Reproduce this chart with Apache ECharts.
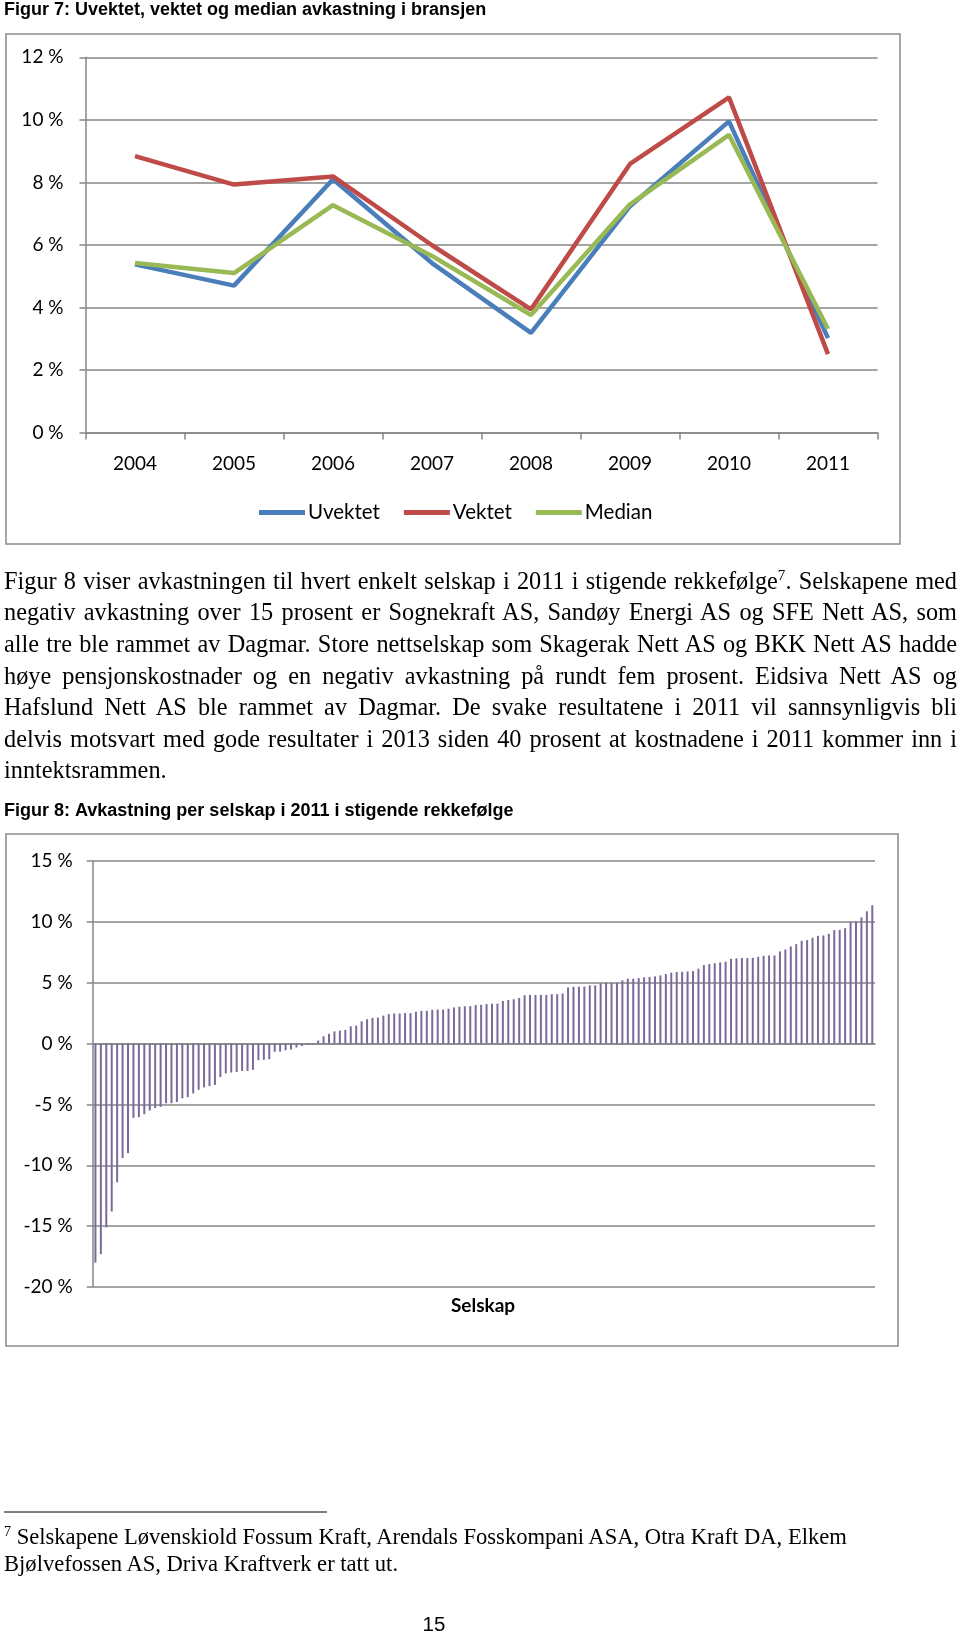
<!DOCTYPE html>
<html>
<head>
<meta charset="utf-8">
<script src="https://cdn.jsdelivr.net/npm/echarts@6/dist/echarts.min.js"></script>
<style>
  html, body { margin: 0; padding: 0; background: #fff; }
  #chart { position: absolute; left: 0; top: 0; width: 960px; height: 1635px; }
  .txt { position: absolute; left: 4px; width: 953px; font-family: 'Liberation Serif', 'Times New Roman', serif;
         font-size: 24.3px; line-height: 31.6px; height: 31.6px; color: #000; white-space: nowrap;
         text-align: justify; text-align-last: justify; }
  .last { text-align: left; text-align-last: left; }
  .fn { position: absolute; left: 4px; font-family: 'Liberation Serif', 'Times New Roman', serif;
        font-size: 22.6px; line-height: 27px; color: #000; white-space: nowrap; }
  sup { font-size: 62%; line-height: 0; vertical-align: 0.6em; }
</style>
</head>
<body>
<div id="chart"></div>
<div class="txt" style="top:564.7px">Figur 8 viser avkastningen til hvert enkelt selskap i 2011 i stigende rekkefølge<sup>7</sup>. Selskapene med</div>
<div class="txt" style="top:596.3px">negativ avkastning over 15 prosent er Sognekraft AS, Sandøy Energi AS og SFE Nett AS, som</div>
<div class="txt" style="top:627.9px">alle tre ble rammet av Dagmar. Store nettselskap som Skagerak Nett AS og BKK Nett AS hadde</div>
<div class="txt" style="top:659.5px">høye pensjonskostnader og en negativ avkastning på rundt fem prosent. Eidsiva Nett AS og</div>
<div class="txt" style="top:691.1px">Hafslund Nett AS ble rammet av Dagmar. De svake resultatene i 2011 vil sannsynligvis bli</div>
<div class="txt" style="top:722.7px">delvis motsvart med gode resultater i 2013 siden 40 prosent at kostnadene i 2011 kommer inn i</div>
<div class="txt last" style="top:754.3px">inntektsrammen.</div>
<div class="fn" style="top:1522.5px"><sup>7</sup> Selskapene Løvenskiold Fossum Kraft, Arendals Fosskompani ASA, Otra Kraft DA, Elkem</div>
<div class="fn" style="top:1550px">Bjølvefossen AS, Driva Kraftverk er tatt ut.</div>
<script>
// ---- Figure 7 data ----
const years = ['2004', '2005', '2006', '2007', '2008', '2009', '2010', '2011'];
const uvektet = [5.38, 4.70, 8.10, 5.42, 3.19, 7.24, 9.95, 3.02];
const vektet  = [8.84, 7.93, 8.19, 5.99, 3.94, 8.59, 10.72, 2.51];
const median  = [5.42, 5.10, 7.27, 5.65, 3.76, 7.30, 9.52, 3.31];
const seriesNames = ['Uvektet', 'Vektet', 'Median'];

// ---- Figure 8 data (avkastning per selskap 2011, stigende) ----
const avkastning = [
  -18.0, -17.3, -15.1, -13.8, -11.4, -9.4, -9.0, -6.1, -6.05, -5.8,
  -5.5, -5.3, -5.2, -4.9, -4.9, -4.8, -4.5, -4.4, -4.1, -3.8,
  -3.6, -3.5, -3.4, -2.75, -2.45, -2.38, -2.33, -2.25, -2.25, -2.16,
  -1.37, -1.34, -1.29, -0.68, -0.66, -0.55, -0.49, -0.33, -0.2, -0.1,
  -0.05, 0.25, 0.6, 0.8, 1.0, 1.07, 1.12, 1.42, 1.47, 1.83,
  2.0, 2.11, 2.14, 2.3, 2.42, 2.47, 2.47, 2.5, 2.5, 2.61,
  2.69, 2.69, 2.78, 2.8, 2.8, 2.86, 2.97, 3.03, 3.06, 3.08,
  3.17, 3.19, 3.25, 3.28, 3.28, 3.5, 3.58, 3.64, 3.75, 3.97,
  4.0, 4.0, 4.0, 4.0, 4.06, 4.06, 4.11, 4.61, 4.67, 4.67,
  4.69, 4.78, 4.78, 4.95, 5.0, 5.0, 5.0, 5.19, 5.33, 5.33,
  5.38, 5.44, 5.47, 5.52, 5.6, 5.71, 5.82, 5.88, 5.9, 5.93,
  5.96, 6.15, 6.45, 6.53, 6.6, 6.67, 6.73, 6.97, 7.0, 7.03,
  7.03, 7.05, 7.13, 7.21, 7.24, 7.24, 7.57, 7.73, 7.98, 8.17,
  8.44, 8.5, 8.69, 8.85, 8.88, 9.02, 9.32, 9.34, 9.48, 10.0,
  10.03, 10.36, 10.87, 11.37
];
const selskap = avkastning.map((v, i) => String(i + 1));

const fig7Title = 'Figur 7: Uvektet, vektet og median avkastning i bransjen';
const fig8Title = 'Figur 8: Avkastning per selskap i 2011 i stigende rekkefølge';
const xName8 = 'Selskap';

const FONT = 'Lato, "Open Sans", sans-serif';
const GRID = '#868686';
const chart = echarts.init(document.getElementById('chart'), null, { renderer: 'canvas' });

chart.setOption({
  animation: false,
  backgroundColor: '#fff',
  textStyle: { fontFamily: FONT, color: '#000' },
  graphic: [
    { type: 'rect', z: -1, shape: { x: 6, y: 34, width: 894, height: 510 },
      style: { fill: '#fff', stroke: '#8a8a8a', lineWidth: 1.5 } },
    { type: 'rect', z: -1, shape: { x: 6, y: 834, width: 892, height: 512 },
      style: { fill: '#fff', stroke: '#8a8a8a', lineWidth: 1.5 } },
    { type: 'text', x: 4, y: 10, style: { text: fig7Title, font: 'bold 18px "Liberation Sans", Arial, sans-serif', fill: '#000', verticalAlign: 'middle' } },
    { type: 'text', x: 4, y: 811, style: { text: fig8Title, font: 'bold 18px "Liberation Sans", Arial, sans-serif', fill: '#000', verticalAlign: 'middle' } },
    { type: 'text', x: 483, y: 1306, style: { text: xName8, font: 'bold 19px ' + FONT, fill: '#000', align: 'center', verticalAlign: 'middle' } },
    { type: 'line', shape: { x1: 4, y1: 1512, x2: 327, y2: 1512 }, style: { stroke: '#000', lineWidth: 1 } },
    { type: 'text', x: 434, y: 1625, style: { text: '15', font: '20.5px "Liberation Sans", Arial, sans-serif', fill: '#000', align: 'center', verticalAlign: 'middle' } }
  ],
  legend: {
    data: seriesNames,
    left: 254, top: 497,
    icon: 'rect', itemWidth: 46, itemHeight: 5, itemGap: 24,
    textStyle: { fontFamily: FONT, fontSize: 20.5, color: '#000', padding: [0, 0, 0, -2] }
  },
  grid: [
    { left: 85.5, width: 792, top: 57.3, height: 375.3 },
    { left: 92.7, width: 782.3, top: 861, height: 426 }
  ],
  xAxis: [
    { type: 'category', gridIndex: 0, data: years, boundaryGap: true,
      axisLine: { lineStyle: { color: GRID, width: 1.5 } },
      axisTick: { show: true, length: 7, lineStyle: { color: GRID, width: 1.5 } },
      axisLabel: { fontFamily: FONT, fontSize: 19, color: '#000', margin: 22 } },
    { type: 'category', gridIndex: 1, data: selskap, boundaryGap: true,
      axisLine: { onZero: true, lineStyle: { color: GRID, width: 1.5 } },
      axisTick: { show: false }, axisLabel: { show: false } }
  ],
  yAxis: [
    { type: 'value', gridIndex: 0, min: 0, max: 12, interval: 2,
      axisLine: { show: true, lineStyle: { color: GRID, width: 1.5 } },
      axisTick: { show: true, length: 6, lineStyle: { color: GRID, width: 1.5 } },
      splitLine: { lineStyle: { color: GRID, width: 1.5 } },
      axisLabel: { formatter: '{value} %', fontFamily: FONT, fontSize: 19, color: '#000', margin: 22 } },
    { type: 'value', gridIndex: 1, min: -20, max: 15, interval: 5,
      axisLine: { show: true, lineStyle: { color: GRID, width: 1.5 } },
      axisTick: { show: true, length: 6, lineStyle: { color: GRID, width: 1.5 } },
      splitLine: { lineStyle: { color: GRID, width: 1.5 } },
      axisLabel: { formatter: '{value} %', fontFamily: FONT, fontSize: 19, color: '#000', margin: 20 } }
  ],
  series: [
    { name: seriesNames[0], type: 'line', xAxisIndex: 0, yAxisIndex: 0, data: uvektet,
      showSymbol: false, color: '#4A7EBB', lineStyle: { width: 4.5, color: '#4A7EBB' } },
    { name: seriesNames[1], type: 'line', xAxisIndex: 0, yAxisIndex: 0, data: vektet,
      showSymbol: false, color: '#BE4B48', lineStyle: { width: 4.5, color: '#BE4B48' } },
    { name: seriesNames[2], type: 'line', xAxisIndex: 0, yAxisIndex: 0, data: median,
      showSymbol: false, color: '#98B954', lineStyle: { width: 4.5, color: '#98B954' } },
    { name: 'Avkastning', type: 'bar', xAxisIndex: 1, yAxisIndex: 1, data: avkastning,
      barWidth: 2, itemStyle: { color: '#7A6A9C' } }
  ]
});
</script>
</body>
</html>
